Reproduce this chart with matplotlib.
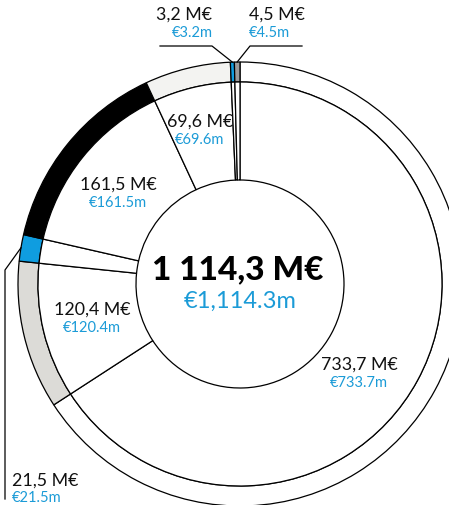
import numpy as np
import matplotlib
matplotlib.use("Agg")
import matplotlib.pyplot as plt

# data, clockwise from 12 o'clock
values = [733.7, 120.4, 21.5, 161.5, 69.6, 3.2, 4.5]
labels_meur = ["733,7 M€", "120,4 M€", "21,5 M€", "161,5 M€", "69,6 M€", "3,2 M€", "4,5 M€"]
labels_eur = ["€733.7m", "€120.4m", "€21.5m", "€161.5m", "€69.6m", "€3.2m", "€4.5m"]
total_meur = "1 114,3 M€"
total_eur = "€1,114.3m"

ring_colors = ["white", "#dcdbd7", "#0f9de0", "black", "#f3f3f1", "#0f9de0", "#9b9b9b"]
BLUE = "#1b9bd7"
W, H = 449, 506

plt.rcParams['font.family'] = ['Lato', 'DejaVu Sans']

fig = plt.figure(figsize=(W / 100, H / 100), dpi=100)
ax = fig.add_axes([0, 0, 1, 1])

cx, cy = 240, H - 285
R, ring_w, r_in = 222, 20, 104

wedges, _ = ax.pie(values, radius=R, center=(cx, cy), startangle=90, counterclock=False,
                   colors=ring_colors,
                   wedgeprops=dict(width=ring_w, edgecolor='black', linewidth=0.9))
ax.pie(values, radius=R - ring_w, center=(cx, cy), startangle=90, counterclock=False,
       colors=['white'] * len(values),
       wedgeprops=dict(width=R - ring_w - r_in, edgecolor='black', linewidth=0.9))

ax.set_xlim(0, W)
ax.set_ylim(0, H)
ax.set_aspect('equal')
ax.axis('off')


def px(x, y):
    return x, H - y


def edge_point(i, r=R):
    w = wedges[i]
    a = np.deg2rad((w.theta1 + w.theta2) / 2)
    return cx + r * np.cos(a), cy + r * np.sin(a)


# labels inside the sectors (pixel positions of the text centres)
label_pos = {0: (359, 365), 1: (92, 310), 3: (118, 185), 4: (200, 122)}
for i, (x, y) in label_pos.items():
    ax.text(*px(x, y), labels_meur[i], ha='center', va='center', fontsize=12.8, color='#111111')
    ax.text(*px(x, y + 18), labels_eur[i], ha='center', va='center', fontsize=10.5, color=BLUE)

# 3.2 label (top left), leader line
x0, y0 = edge_point(5)
ax.plot([160, 212, x0], [H - 47, H - 47, y0], color='black', lw=0.9)
ax.text(*px(212, 15), labels_meur[5], ha='right', va='center', fontsize=12.8, color='#111111')
ax.text(*px(213, 33), labels_eur[5], ha='right', va='center', fontsize=10.5, color=BLUE)

# 4.5 label (top right), leader line
x0, y0 = edge_point(6)
ax.plot([x0, 250, 302], [y0, H - 47, H - 47], color='black', lw=0.9)
ax.text(*px(249, 15), labels_meur[6], ha='left', va='center', fontsize=12.8, color='#111111')
ax.text(*px(249, 33), labels_eur[6], ha='left', va='center', fontsize=10.5, color=BLUE)

# 21.5 label (bottom left), leader line
x0, y0 = edge_point(2)
ax.plot([x0, 5, 5], [y0, H - 271, H - 500], color='black', lw=0.9)
ax.text(*px(12, 481), labels_meur[2], ha='left', va='center', fontsize=12.8, color='#111111')
ax.text(*px(12, 498), labels_eur[2], ha='left', va='center', fontsize=10.5, color=BLUE)

# total in the middle
ax.text(*px(238, 270), total_meur, ha='center', va='center', fontsize=24, fontweight='black', color='black')
ax.text(*px(240, 301), total_eur, ha='center', va='center', fontsize=17, color=BLUE)

fig.savefig("out.png", dpi=100)
